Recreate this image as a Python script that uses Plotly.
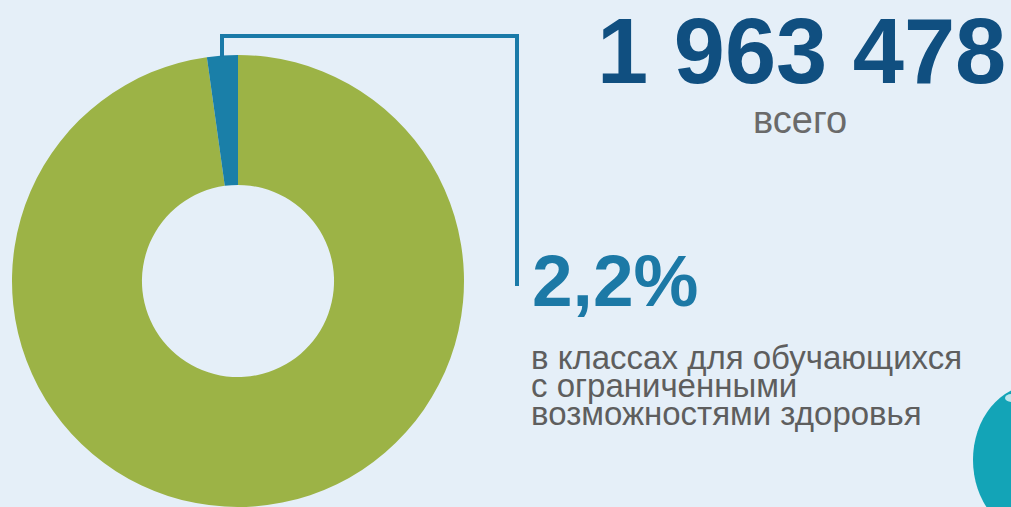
import plotly.graph_objects as go

# Data
labels = ["прочие классы", "в классах для обучающихся с ОВЗ"]
values = [97.8, 2.2]
colors = ["#9cb346", "#1a7fa8"]
total_text = "1 963 478"
total_caption = "всего"
share_text = "2,2%"
share_caption = ["в классах для обучающихся", "с ограниченными", "возможностями здоровья"]

W, H = 1011, 507
BG = "#e5eff8"

def px(x):
    return x / W

def py(y):
    return 1 - y / H

fig = go.Figure()
fig.add_trace(go.Pie(
    labels=labels, values=values, hole=0.425, sort=False,
    direction="clockwise", rotation=0,
    marker=dict(colors=colors, line=dict(width=0)),
    textinfo="none", hoverinfo="label+percent",
    domain=dict(x=[px(12), px(464)], y=[py(507), py(55)]),
    showlegend=False,
))

shapes = [
    dict(type="path", xref="paper", yref="paper",
         path=f"M {px(222)} {py(57)} L {px(222)} {py(36)} L {px(517)} {py(36)} L {px(517)} {py(286)}",
         line=dict(color="#1a7aa8", width=4)),
    dict(type="circle", xref="paper", yref="paper",
         x0=px(973), x1=px(1095), y0=py(385), y1=py(535),
         fillcolor="#13a4b7", line=dict(width=0)),
    dict(type="circle", xref="paper", yref="paper",
         x0=px(1005), x1=px(1018), y0=py(394), y1=py(402),
         fillcolor="#bfe5ec", line=dict(width=0)),
]

annotations = [
    dict(text=f"<b>{total_text}</b>", x=px(801), y=py(51), xref="paper", yref="paper",
         xanchor="center", yanchor="middle", showarrow=False,
         font=dict(family="Liberation Sans", size=92, color="#104f80")),
    dict(text=total_caption, x=px(800), y=py(120), xref="paper", yref="paper",
         xanchor="center", yanchor="middle", showarrow=False,
         font=dict(family="Liberation Sans", size=38, color="#6a6a6a")),
    dict(text=f"<b>{share_text}</b>", x=px(530), y=py(280), xref="paper", yref="paper",
         xanchor="left", yanchor="middle", showarrow=False,
         font=dict(family="Liberation Sans", size=73, color="#1c79a6")),
]
for i, line in enumerate(share_caption):
    annotations.append(dict(text=line, x=px(529), y=py(357 + 28 * i), xref="paper", yref="paper",
                            xanchor="left", yanchor="middle", showarrow=False,
                            font=dict(family="Liberation Sans", size=33, color="#5e5e5e")))

fig.update_layout(
    width=W, height=H, margin=dict(l=0, r=0, t=0, b=0),
    paper_bgcolor=BG, plot_bgcolor=BG,
    shapes=shapes, annotations=annotations,
)
fig.write_html("out.html", config={"displayModeBar": False},
               post_script="document.body.style.margin='0';document.body.style.background='" + BG + "';")
